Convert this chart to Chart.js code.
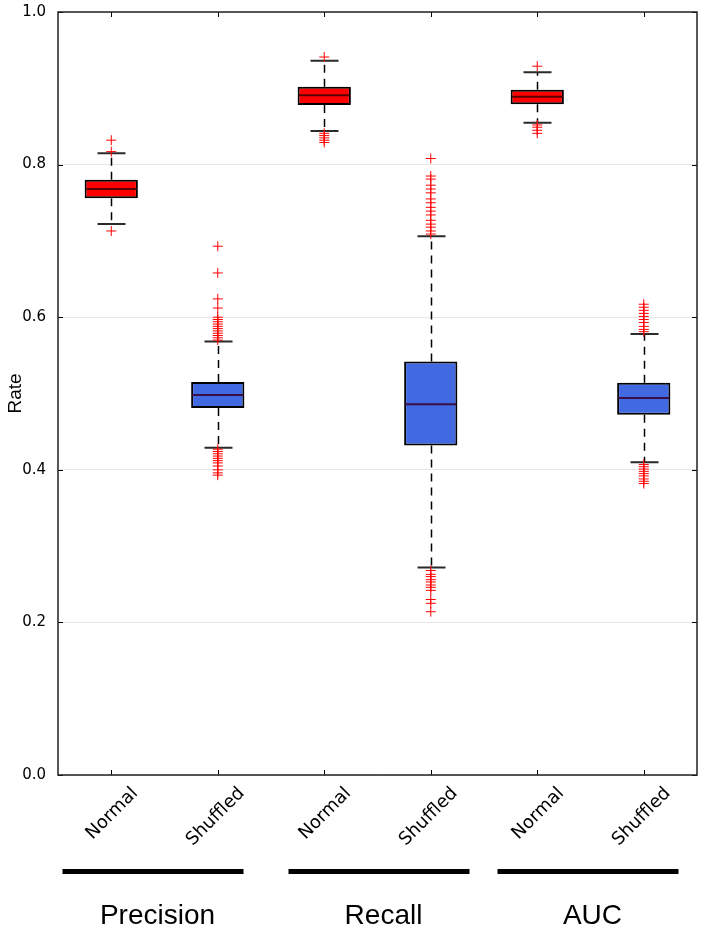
<!DOCTYPE html>
<html>
<head>
<meta charset="utf-8">
<script src="https://cdn.jsdelivr.net/npm/chart.js@4/dist/chart.umd.min.js"></script>
<style>
  html, body { margin: 0; padding: 0; background: #fff; }
</style>
</head>
<body>
<canvas id="rateChart" width="704" height="933"></canvas>
<script>
// groups and conditions along the x axis
var groups = ['Precision', 'Recall', 'AUC'];
var conditions = ['Normal', 'Shuffled'];

// box statistics, one value per box (Precision N/S, Recall N/S, AUC N/S)
var whiskerLow  = [0.722, 0.429, 0.844, 0.272, 0.855, 0.410];
var quartile1   = [0.756, 0.481, 0.878, 0.432, 0.879, 0.472];
var median      = [0.768, 0.498, 0.891, 0.486, 0.889, 0.494];
var quartile3   = [0.780, 0.515, 0.902, 0.542, 0.898, 0.514];
var whiskerHigh = [0.815, 0.568, 0.936, 0.706, 0.921, 0.578];

// outliers (fliers) per box
var precisionNormalOut = [0.832, 0.817, 0.713];
var precisionShuffledOut = [0.693, 0.658, 0.624, 0.612, 0.600, 0.597, 0.594, 0.591, 0.588, 0.585,
    0.582, 0.579, 0.576, 0.573, 0.570, 0.427, 0.424, 0.421, 0.418, 0.415, 0.412, 0.409, 0.405,
    0.400, 0.396, 0.393];
var recallNormalOut = [0.941, 0.841, 0.838, 0.835, 0.832, 0.829];
var recallShuffledOut = [0.808, 0.785, 0.781, 0.773, 0.768, 0.763, 0.755, 0.750, 0.744, 0.739,
    0.734, 0.727, 0.722, 0.718, 0.713, 0.709, 0.268, 0.263, 0.260, 0.256, 0.253, 0.249, 0.246,
    0.242, 0.230, 0.225, 0.214];
var aucNormalOut = [0.929, 0.852, 0.849, 0.845, 0.841];
var aucShuffledOut = [0.617, 0.613, 0.609, 0.605, 0.601, 0.597, 0.593, 0.588, 0.584, 0.581,
    0.407, 0.404, 0.401, 0.398, 0.395, 0.392, 0.388, 0.385, 0.382];
var outliers = [precisionNormalOut, precisionShuffledOut, recallNormalOut,
    recallShuffledOut, aucNormalOut, aucShuffledOut];

var yTicks = [0, 0.2, 0.4, 0.6, 0.8, 1.0];

var RED = '#ff0000';
var BLUE = '#4169e1';
// nudge of the group underline/name from the centre of its two boxes (px)
var groupShift = [-12, 1, -3];

// unique keys for the category axis, the tick shows only the condition
var keys = [];
groups.forEach(function (g) {
    conditions.forEach(function (c) { keys.push(g + '|' + c); });
});

var boxes = keys.map(function (k, i) { return [quartile1[i], quartile3[i]]; });
var boxColors = keys.map(function (k, i) { return i % 2 === 0 ? RED : BLUE; });
var medianColors = keys.map(function (k, i) { return i % 2 === 0 ? '#5a0000' : '#3a0f45'; });

var flierPoints = [];
outliers.forEach(function (list, i) {
    list.forEach(function (v) { flierPoints.push({x: keys[i], y: v}); });
});

// whiskers, caps, medians, frame and group bars
var boxPlotPlugin = {
    id: 'boxPlot',
    beforeDatasetsDraw: function (chart) {
        var ctx = chart.ctx;
        var xs = chart.scales.x, ys = chart.scales.y;
        ctx.save();
        keys.forEach(function (k, i) {
            var x = Math.round(xs.getPixelForValue(i)) + 0.5;
            ctx.strokeStyle = '#000';
            ctx.lineWidth = 1.5;
            ctx.setLineDash([8, 6]);
            ctx.beginPath();
            ctx.moveTo(x, ys.getPixelForValue(quartile3[i]));
            ctx.lineTo(x, ys.getPixelForValue(whiskerHigh[i]));
            ctx.moveTo(x, ys.getPixelForValue(quartile1[i]));
            ctx.lineTo(x, ys.getPixelForValue(whiskerLow[i]));
            ctx.stroke();
            ctx.setLineDash([]);
            ctx.strokeStyle = '#2a2a2a';
            ctx.lineWidth = 2;
            ctx.beginPath();
            [whiskerHigh[i], whiskerLow[i]].forEach(function (v) {
                var y = ys.getPixelForValue(v);
                ctx.moveTo(x - 14, y);
                ctx.lineTo(x + 14, y);
            });
            ctx.stroke();
        });
        ctx.restore();
    },
    afterDatasetDraw: function (chart, args) {
        if (args.meta.type !== 'bar') return;
        var ctx = chart.ctx;
        var ys = chart.scales.y;
        ctx.save();
        args.meta.data.forEach(function (bar, i) {
            var y = ys.getPixelForValue(median[i]);
            ctx.strokeStyle = medianColors[i];
            ctx.lineWidth = 2;
            ctx.beginPath();
            ctx.moveTo(bar.x - bar.width / 2 + 1, y);
            ctx.lineTo(bar.x + bar.width / 2 - 1, y);
            ctx.stroke();
        });
        ctx.restore();
    },
    afterDraw: function (chart) {
        var ctx = chart.ctx;
        var area = chart.chartArea;
        var xs = chart.scales.x, ys = chart.scales.y;
        ctx.save();
        // small inside ticks
        ctx.strokeStyle = '#000';
        ctx.lineWidth = 1;
        ctx.beginPath();
        yTicks.forEach(function (v) {
            var y = Math.round(ys.getPixelForValue(v)) + 0.5;
            ctx.moveTo(area.left, y); ctx.lineTo(area.left + 5, y);
            ctx.moveTo(area.right, y); ctx.lineTo(area.right - 5, y);
        });
        keys.forEach(function (k, i) {
            var x = Math.round(xs.getPixelForValue(i)) + 0.5;
            ctx.moveTo(x, area.bottom); ctx.lineTo(x, area.bottom - 5);
            ctx.moveTo(x, area.top); ctx.lineTo(x, area.top + 5);
        });
        ctx.stroke();
        // frame
        ctx.strokeStyle = '#222';
        ctx.lineWidth = 1.5;
        ctx.strokeRect(area.left, area.top, area.right - area.left, area.bottom - area.top);
        // group bars and names below the axis
        groups.forEach(function (g, gi) {
            var c = (xs.getPixelForValue(gi * 2) + xs.getPixelForValue(gi * 2 + 1)) / 2 + groupShift[gi];
            ctx.fillStyle = '#000';
            ctx.fillRect(c - 90, 869, 181, 5);
            ctx.font = '28px "Liberation Sans", Arial, sans-serif';
            ctx.textAlign = 'center';
            ctx.textBaseline = 'middle';
            ctx.fillText(g, c + 5, 916);
        });
        ctx.restore();
    }
};

var ctx = document.getElementById('rateChart').getContext('2d');
new Chart(ctx, {
    type: 'bar',
    data: {
        labels: keys,
        datasets: [{
            type: 'line',
            label: 'Outliers',
            data: flierPoints,
            showLine: false,
            pointStyle: 'cross',
            pointRadius: 5,
            pointHoverRadius: 5,
            pointBorderColor: RED,
            pointBorderWidth: 1,
            order: 1
        }, {
            type: 'bar',
            label: 'Boxes',
            data: boxes,
            backgroundColor: boxColors,
            borderColor: '#000',
            borderWidth: 2,
            borderSkipped: false,
            barPercentage: 0.5,
            categoryPercentage: 1.0,
            order: 2
        }]
    },
    options: {
        responsive: false,
        animation: false,
        layout: { padding: { top: 12, right: 7, left: 0, bottom: 0 } },
        plugins: {
            legend: { display: false },
            tooltip: { enabled: false }
        },
        scales: {
            x: {
                grid: { display: false, drawTicks: false },
                border: { display: false },
                ticks: {
                    autoSkip: false,
                    minRotation: 45,
                    maxRotation: 45,
                    labelOffset: 24,
                    padding: 8,
                    color: '#000',
                    font: { family: '"DejaVu Sans", sans-serif', size: 18 },
                    callback: function (value) {
                        return this.getLabelForValue(value).split('|')[1];
                    }
                },
                afterFit: function (scale) { scale.height = 158; }
            },
            y: {
                min: 0,
                max: 1,
                grid: { color: '#e6e6e6', drawTicks: false },
                border: { display: false },
                title: {
                    display: true,
                    text: 'Rate',
                    color: '#000',
                    padding: { top: 4, bottom: 0 },
                    font: { family: '"Liberation Sans", Arial, sans-serif', size: 19 }
                },
                afterBuildTicks: function (scale) {
                    scale.ticks = yTicks.map(function (v) { return {value: v}; });
                },
                ticks: {
                    padding: 12,
                    color: '#000',
                    font: { family: '"DejaVu Sans", sans-serif', size: 15 },
                    callback: function (value) { return value.toFixed(1); }
                },
                afterFit: function (scale) {
                    scale.width = 58;
                    scale.paddingTop = 0;
                    scale.paddingBottom = 0;
                }
            }
        }
    },
    plugins: [boxPlotPlugin]
});
</script>
</body>
</html>
